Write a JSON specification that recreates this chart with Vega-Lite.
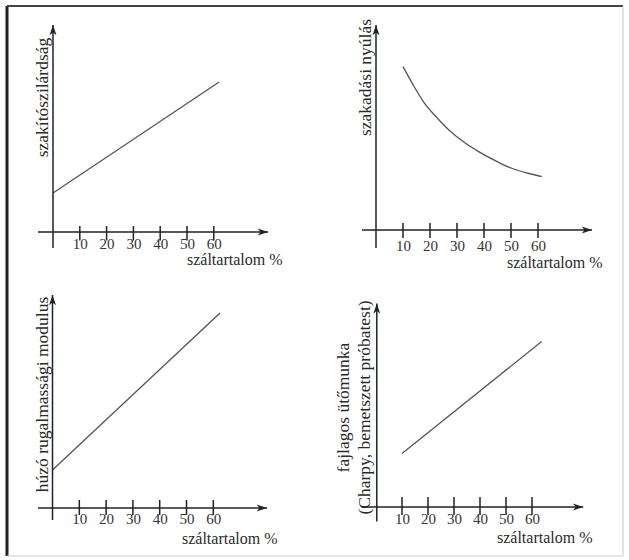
{
  "$schema": "https://vega.github.io/schema/vega-lite/v6.json",
  "padding": 0,
  "background": "white",
  "bounds": "flush",
  "spacing": 0,
  "columns": 2,
  "datasets": {
    "tl": [{"szaltartalom": 0, "ertek": 19.5}, {"szaltartalom": 62, "ertek": 75}],
    "tr": [
      {"szaltartalom": 10, "ertek": 81.7}, {"szaltartalom": 14, "ertek": 72}, {"szaltartalom": 18, "ertek": 63.3},
      {"szaltartalom": 22, "ertek": 57}, {"szaltartalom": 27, "ertek": 50}, {"szaltartalom": 32, "ertek": 44.5},
      {"szaltartalom": 38, "ertek": 39.2}, {"szaltartalom": 44, "ertek": 34.8}, {"szaltartalom": 50, "ertek": 31},
      {"szaltartalom": 56, "ertek": 28.5}, {"szaltartalom": 61.4, "ertek": 26.7}
    ],
    "bl": [{"szaltartalom": 0, "ertek": 19}, {"szaltartalom": 62.5, "ertek": 97.5}],
    "br": [{"szaltartalom": 10, "ertek": 26.8}, {"szaltartalom": 63.7, "ertek": 82.7}],
    "ticks": [{"t": 10}, {"t": 20}, {"t": 30}, {"t": 40}, {"t": 50}, {"t": 60}],
    "one": [{}]
  },
  "concat": [
        {
          "width": 314, "height": 280,
          "resolve": {"axis": {"x": "independent", "y": "independent"}},
          "layer": [
            {"data": {"name": "tl"}, "mark": {"type": "line", "color": "#555", "strokeWidth": 1.3},
             "encoding": {
               "x": {"field": "szaltartalom", "type": "quantitative", "scale": {"domain": [-19.776, 97.388], "nice": false, "zero": false},
                     "axis": {"orient": "bottom", "offset": -48, "values": [10, 20, 30, 40, 50, 60], "labelPadding": 11.5, "labelBaseline": "middle",
                              "title": "száltartalom %", "titleX": 282, "titleY": 32.5, "titleAlign": "right", "titleBaseline": "alphabetic", "titleFontSize": 16, "titleAngle": 0}},
               "y": {"field": "ertek", "type": "quantitative", "scale": {"domain": [-24, 116], "nice": false, "zero": false},
                     "axis": {"labels": false, "title": "szakítószilárdság", "titleX": 42, "titleY": 97, "titleAngle": 270, "titleAlign": "center", "titleBaseline": "middle", "titleFontSize": 17.5}}
             }},
            {"data": {"name": "one"}, "mark": {"type": "rule", "color": "#222", "strokeWidth": 1.5},
             "encoding": {"x": {"datum": 0, "type": "quantitative", "axis": null}, "y": {"datum": -8, "type": "quantitative", "axis": null}, "y2": {"datum": 103.5}}},
            {"data": {"name": "one"}, "mark": {"type": "rule", "color": "#222", "strokeWidth": 1.5},
             "encoding": {"y": {"datum": 0, "type": "quantitative", "axis": null}, "x": {"datum": -5.6, "type": "quantitative", "axis": null}, "x2": {"datum": 80.2}}},
            {"data": {"name": "ticks"}, "mark": {"type": "rule", "color": "#222", "strokeWidth": 1.5},
             "encoding": {"x": {"field": "t", "type": "quantitative", "axis": null}, "y": {"datum": -4.2, "type": "quantitative", "axis": null}, "y2": {"datum": 3}}},
            {"data": {"name": "one"}, "mark": {"type": "point", "filled": true, "color": "#222", "opacity": 1, "size": 270, "shape": "M0,0L-0.42,1.25L0,0.9L0.42,1.25Z"},
             "encoding": {"x": {"datum": 0, "type": "quantitative", "axis": null}, "y": {"datum": 103.5, "type": "quantitative", "axis": null}}},
            {"data": {"name": "one"}, "mark": {"type": "point", "filled": true, "color": "#222", "opacity": 1, "size": 270, "angle": 90, "shape": "M0,0L-0.42,1.25L0,0.9L0.42,1.25Z"},
             "encoding": {"x": {"datum": 80.2, "type": "quantitative", "axis": null}, "y": {"datum": 0, "type": "quantitative", "axis": null}}},
            {"data": {"name": "one"}, "mark": {"type": "rule", "color": "#222", "strokeWidth": 3},
             "encoding": {"x": {"datum": -17.16, "type": "quantitative", "axis": null}, "y": {"datum": -24, "type": "quantitative", "axis": null}, "y2": {"datum": 113}}},
            {"data": {"name": "one"}, "mark": {"type": "rule", "color": "#444", "strokeWidth": 2},
             "encoding": {"y": {"datum": 113, "type": "quantitative", "axis": null}, "x": {"datum": -17.16, "type": "quantitative", "axis": null}, "x2": {"datum": 97.388}}}
          ]
        },
        {
          "width": 315, "height": 280,
          "resolve": {"axis": {"x": "independent", "y": "independent"}},
          "layer": [
            {"data": {"name": "tr"}, "mark": {"type": "line", "color": "#555", "strokeWidth": 1.3, "interpolate": "monotone"},
             "encoding": {
               "x": {"field": "szaltartalom", "type": "quantitative", "scale": {"domain": [-22.963, 93.704], "nice": false, "zero": false},
                     "axis": {"orient": "bottom", "offset": -50, "values": [10, 20, 30, 40, 50, 60], "labelPadding": 15.5, "labelBaseline": "middle",
                              "title": "száltartalom %", "titleX": 288, "titleY": 37.5, "titleAlign": "right", "titleBaseline": "alphabetic", "titleFontSize": 16, "titleAngle": 0}},
               "y": {"field": "ertek", "type": "quantitative", "scale": {"domain": [-25, 115], "nice": false, "zero": false},
                     "axis": {"labels": false, "title": "szakadási nyúlás", "titleX": 51, "titleY": 77, "titleAngle": 270, "titleAlign": "center", "titleBaseline": "middle", "titleFontSize": 17.5}}
             }},
            {"data": {"name": "one"}, "mark": {"type": "rule", "color": "#222", "strokeWidth": 1.5},
             "encoding": {"x": {"datum": 0, "type": "quantitative", "axis": null}, "y": {"datum": -9, "type": "quantitative", "axis": null}, "y2": {"datum": 102.5}}},
            {"data": {"name": "one"}, "mark": {"type": "rule", "color": "#222", "strokeWidth": 1.5},
             "encoding": {"y": {"datum": 0, "type": "quantitative", "axis": null}, "x": {"datum": -5.2, "type": "quantitative", "axis": null}, "x2": {"datum": 80}}},
            {"data": {"name": "ticks"}, "mark": {"type": "rule", "color": "#222", "strokeWidth": 1.5},
             "encoding": {"x": {"field": "t", "type": "quantitative", "axis": null}, "y": {"datum": -4, "type": "quantitative", "axis": null}, "y2": {"datum": 3.5}}},
            {"data": {"name": "one"}, "mark": {"type": "point", "filled": true, "color": "#222", "opacity": 1, "size": 270, "shape": "M0,0L-0.42,1.25L0,0.9L0.42,1.25Z"},
             "encoding": {"x": {"datum": 0, "type": "quantitative", "axis": null}, "y": {"datum": 102.5, "type": "quantitative", "axis": null}}},
            {"data": {"name": "one"}, "mark": {"type": "point", "filled": true, "color": "#222", "opacity": 1, "size": 270, "angle": 90, "shape": "M0,0L-0.42,1.25L0,0.9L0.42,1.25Z"},
             "encoding": {"x": {"datum": 80, "type": "quantitative", "axis": null}, "y": {"datum": 0, "type": "quantitative", "axis": null}}},
            {"data": {"name": "one"}, "mark": {"type": "rule", "color": "#444", "strokeWidth": 2},
             "encoding": {"y": {"datum": 112, "type": "quantitative", "axis": null}, "x": {"datum": -22.963, "type": "quantitative", "axis": null}, "x2": {"datum": 91.48}}},
            {"data": {"name": "one"}, "mark": {"type": "rule", "color": "#c8c8c8", "strokeWidth": 1},
             "encoding": {"x": {"datum": 91.48, "type": "quantitative", "axis": null}, "y": {"datum": -25, "type": "quantitative", "axis": null}, "y2": {"datum": 112}}}
          ]
        },
        {
          "width": 314, "height": 280,
          "resolve": {"axis": {"x": "independent", "y": "independent"}},
          "layer": [
            {"data": {"name": "bl"}, "mark": {"type": "line", "color": "#555", "strokeWidth": 1.3},
             "encoding": {
               "x": {"field": "szaltartalom", "type": "quantitative", "scale": {"domain": [-19.59, 97.57], "nice": false, "zero": false},
                     "axis": {"orient": "bottom", "offset": -52, "values": [10, 20, 30, 40, 50, 60], "labelPadding": 10.5, "labelBaseline": "middle",
                              "title": "száltartalom %", "titleX": 277, "titleY": 35, "titleAlign": "right", "titleBaseline": "alphabetic", "titleFontSize": 16, "titleAngle": 0}},
               "y": {"field": "ertek", "type": "quantitative", "scale": {"domain": [-26, 114], "nice": false, "zero": false},
                     "axis": {"labels": false, "title": "húzó rugalmassági modulus", "titleX": 42, "titleY": 114, "titleAngle": 270, "titleAlign": "center", "titleBaseline": "middle", "titleFontSize": 17.5}}
             }},
            {"data": {"name": "one"}, "mark": {"type": "rule", "color": "#222", "strokeWidth": 1.5},
             "encoding": {"x": {"datum": 0, "type": "quantitative", "axis": null}, "y": {"datum": -6, "type": "quantitative", "axis": null}, "y2": {"datum": 106.5}}},
            {"data": {"name": "one"}, "mark": {"type": "rule", "color": "#222", "strokeWidth": 1.5},
             "encoding": {"y": {"datum": 0, "type": "quantitative", "axis": null}, "x": {"datum": -5.4, "type": "quantitative", "axis": null}, "x2": {"datum": 80}}},
            {"data": {"name": "ticks"}, "mark": {"type": "rule", "color": "#222", "strokeWidth": 1.5},
             "encoding": {"x": {"field": "t", "type": "quantitative", "axis": null}, "y": {"datum": -3.5, "type": "quantitative", "axis": null}, "y2": {"datum": 4}}},
            {"data": {"name": "one"}, "mark": {"type": "point", "filled": true, "color": "#222", "opacity": 1, "size": 270, "shape": "M0,0L-0.42,1.25L0,0.9L0.42,1.25Z"},
             "encoding": {"x": {"datum": 0, "type": "quantitative", "axis": null}, "y": {"datum": 106.5, "type": "quantitative", "axis": null}}},
            {"data": {"name": "one"}, "mark": {"type": "point", "filled": true, "color": "#222", "opacity": 1, "size": 270, "angle": 90, "shape": "M0,0L-0.42,1.25L0,0.9L0.42,1.25Z"},
             "encoding": {"x": {"datum": 80, "type": "quantitative", "axis": null}, "y": {"datum": 0, "type": "quantitative", "axis": null}}},
            {"data": {"name": "one"}, "mark": {"type": "rule", "color": "#222", "strokeWidth": 3},
             "encoding": {"x": {"datum": -16.98, "type": "quantitative", "axis": null}, "y": {"datum": -24, "type": "quantitative", "axis": null}, "y2": {"datum": 114}}},
            {"data": {"name": "one"}, "mark": {"type": "rule", "color": "#d0d0d0", "strokeWidth": 1},
             "encoding": {"y": {"datum": -24, "type": "quantitative", "axis": null}, "x": {"datum": -16.98, "type": "quantitative", "axis": null}, "x2": {"datum": 97.57}}}
          ]
        },
        {
          "width": 315, "height": 280,
          "resolve": {"axis": {"x": "independent", "y": "independent"}},
          "layer": [
            {"data": {"name": "br"}, "mark": {"type": "line", "color": "#555", "strokeWidth": 1.3},
             "encoding": {
               "x": {"field": "szaltartalom", "type": "quantitative", "scale": {"domain": [-23.85, 97.31], "nice": false, "zero": false},
                     "axis": {"orient": "bottom", "offset": -53, "values": [10, 20, 30, 40, 50, 60], "labelPadding": 11.5, "labelBaseline": "middle",
                              "title": "száltartalom %", "titleX": 278, "titleY": 35.5, "titleAlign": "right", "titleBaseline": "alphabetic", "titleFontSize": 16, "titleAngle": 0}},
               "y": {"field": "ertek", "type": "quantitative", "scale": {"domain": [-26.5, 113.5], "nice": false, "zero": false},
                     "axis": {"labels": false, "title": ["fajlagos ütőmunka", "(Charpy, bemetszett próbatest)"], "titleX": 29, "titleY": 127, "titleAngle": 270, "titleAlign": "center", "titleBaseline": "middle", "titleLineHeight": 21, "titleFontSize": 17.5}}
             }},
            {"data": {"name": "one"}, "mark": {"type": "rule", "color": "#222", "strokeWidth": 1.5},
             "encoding": {"x": {"datum": 0.3, "type": "quantitative", "axis": null}, "y": {"datum": -7.3, "type": "quantitative", "axis": null}, "y2": {"datum": 101.8}}},
            {"data": {"name": "one"}, "mark": {"type": "rule", "color": "#222", "strokeWidth": 1.5},
             "encoding": {"y": {"datum": 0, "type": "quantitative", "axis": null}, "x": {"datum": -5.5, "type": "quantitative", "axis": null}, "x2": {"datum": 79.7}}},
            {"data": {"name": "ticks"}, "mark": {"type": "rule", "color": "#222", "strokeWidth": 1.5},
             "encoding": {"x": {"field": "t", "type": "quantitative", "axis": null}, "y": {"datum": -4, "type": "quantitative", "axis": null}, "y2": {"datum": 5}}},
            {"data": {"name": "one"}, "mark": {"type": "point", "filled": true, "color": "#222", "opacity": 1, "size": 270, "shape": "M0,0L-0.42,1.25L0,0.9L0.42,1.25Z"},
             "encoding": {"x": {"datum": 0.3, "type": "quantitative", "axis": null}, "y": {"datum": 101.8, "type": "quantitative", "axis": null}}},
            {"data": {"name": "one"}, "mark": {"type": "point", "filled": true, "color": "#222", "opacity": 1, "size": 270, "angle": 90, "shape": "M0,0L-0.42,1.25L0,0.9L0.42,1.25Z"},
             "encoding": {"x": {"datum": 79.7, "type": "quantitative", "axis": null}, "y": {"datum": 0, "type": "quantitative", "axis": null}}},
            {"data": {"name": "one"}, "mark": {"type": "rule", "color": "#d0d0d0", "strokeWidth": 1},
             "encoding": {"y": {"datum": -24.5, "type": "quantitative", "axis": null}, "x": {"datum": -23.85, "type": "quantitative", "axis": null}, "x2": {"datum": 95}}},
            {"data": {"name": "one"}, "mark": {"type": "rule", "color": "#c8c8c8", "strokeWidth": 1},
             "encoding": {"x": {"datum": 95, "type": "quantitative", "axis": null}, "y": {"datum": -24.5, "type": "quantitative", "axis": null}, "y2": {"datum": 113.5}}}
          ]
        }
  ],
  "config": {
    "view": {"stroke": null},
    "axis": {
      "grid": false, "domain": false, "ticks": false,
      "labelFont": "Liberation Serif", "labelFontSize": 15, "labelColor": "#333",
      "labelOverlap": false, "labelFlush": false,
      "titleFont": "Liberation Serif", "titleFontWeight": "normal", "titleColor": "#2a2a2a"
    }
  }
}
